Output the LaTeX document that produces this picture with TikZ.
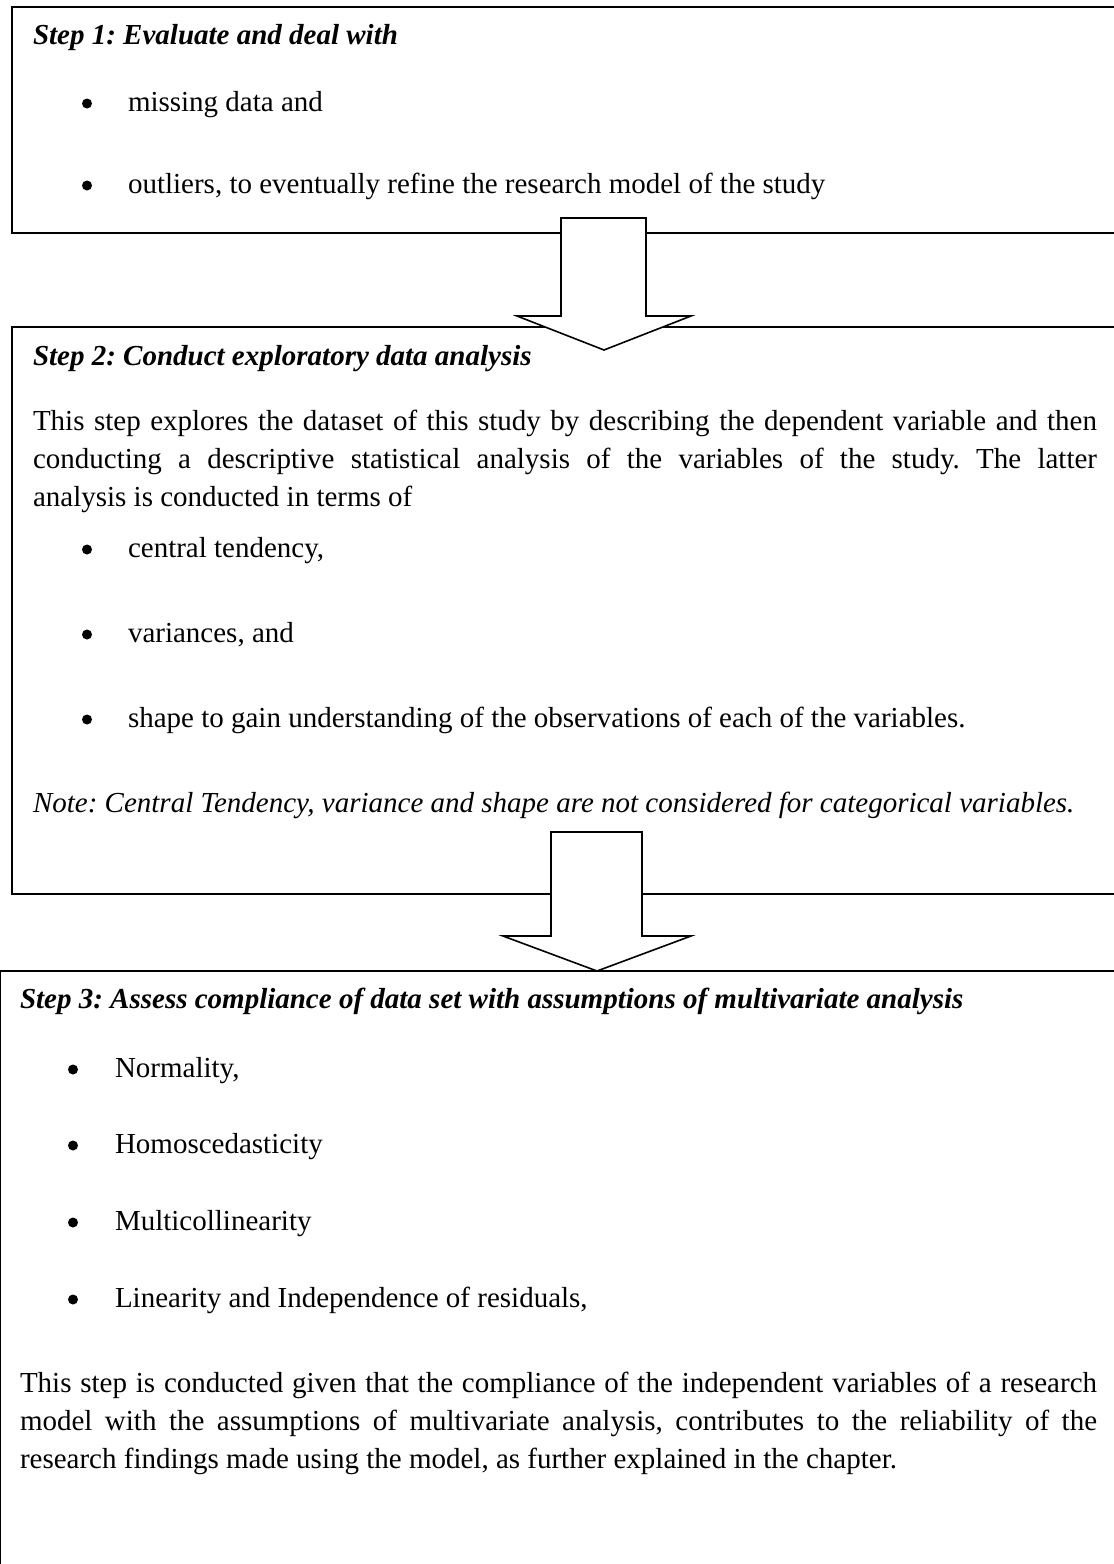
\documentclass[tikz,border=0pt]{standalone}
\usepackage{fontspec}
\setmainfont{Liberation Serif}
\frenchspacing
% a line of justified text spread to a fixed width
\newcommand{\jline}[2]{\makebox[#1pt][s]{#2}}
\begin{document}
\begin{tikzpicture}[x=1pt,y=-1pt,
  stepbox/.style={draw=black, line width=1.8pt, rectangle, inner sep=0pt, outer sep=0pt, anchor=north west},
  blockarrow/.style={draw=black, fill=white, line width=1.6pt, line join=miter},
  txt/.style={anchor=base west, inner sep=0pt, outer sep=0pt, font=\fontsize{29}{33}\selectfont},
  head/.style={txt, font=\fontsize{29}{33}\selectfont\bfseries\itshape},
  note/.style={txt, font=\fontsize{29}{33}\selectfont\itshape},
  bul/.style={circle, fill=black, inner sep=0pt, outer sep=0pt, minimum size=10pt}]
\useasboundingbox (0,0) rectangle (1114,1564);
\clip (0,0) rectangle (1114,1564);

% the three step frames (right side runs off the page)
\node[stepbox, minimum width=1130pt, minimum height=226pt] (box1) at (12,7) {};
\node[stepbox, minimum width=1130pt, minimum height=567pt] (box2) at (12,327) {};
\node[stepbox, line width=2.2pt, minimum width=1130pt, minimum height=700pt] (box3) at (-0.6,971) {};

% hollow block arrows between the steps
\draw[blockarrow] (561,218) -- (646,218) -- (646,316) -- (691,316) -- (604,350)
  -- (517,316) -- (561,316) -- cycle;
\draw[blockarrow] (551,832) -- (642,832) -- (642,936) -- (691,936) -- (597,971)
  -- (503,936) -- (551,936) -- cycle;

% Step 1
\node[head] (h1) at (33,44) {Step 1: Evaluate and deal with};
\node[bul] (d11) at (87,103.5) {};
\node[txt] (t11) at (128,111) {missing data and};
\node[bul] (d12) at (87,185.5) {};
\node[txt] (t12) at (128,193) {outliers, to eventually refine the research model of the study};

% Step 2
\node[head] (h2) at (33,365) {Step 2: Conduct exploratory data analysis};
\node[txt] (p21) at (33,430) {\jline{1064}{This step explores the dataset of this study by describing the dependent variable and then}};
\node[txt] (p22) at (33,468) {\jline{1064}{conducting a descriptive statistical analysis of the variables of the study. The latter}};
\node[txt] (p23) at (33,506) {analysis is conducted in terms of};
\node[bul] (d21) at (87,549.5) {};
\node[txt] (t21) at (128,557) {central tendency,};
\node[bul] (d22) at (87,634.5) {};
\node[txt] (t22) at (128,642) {variances, and};
\node[bul] (d23) at (87,719.5) {};
\node[txt] (t23) at (128,727) {shape to gain understanding of the observations of each of the variables.};
\node[note] (n2) at (33,812) {Note: Central Tendency, variance and shape are not considered for categorical variables.};

% Step 3
\node[head] (h3) at (20,1008) {Step 3: Assess compliance of data set with assumptions of multivariate analysis};
\node[bul] (d31) at (73,1069.5) {};
\node[txt] (t31) at (115,1077) {Normality,};
\node[bul] (d32) at (73,1145.5) {};
\node[txt] (t32) at (115,1153) {Homoscedasticity};
\node[bul] (d33) at (73,1222.5) {};
\node[txt] (t33) at (115,1230) {Multicollinearity};
\node[bul] (d34) at (73,1299.5) {};
\node[txt] (t34) at (115,1307) {Linearity and Independence of residuals,};
\node[txt] (p31) at (20,1392) {\jline{1077}{This step is conducted given that the compliance of the independent variables of a research}};
\node[txt] (p32) at (20,1430) {\jline{1077}{model with the assumptions of multivariate analysis, contributes to the reliability of the}};
\node[txt] (p33) at (20,1468) {research findings made using the model, as further explained in the chapter.};
\end{tikzpicture}
\end{document}
